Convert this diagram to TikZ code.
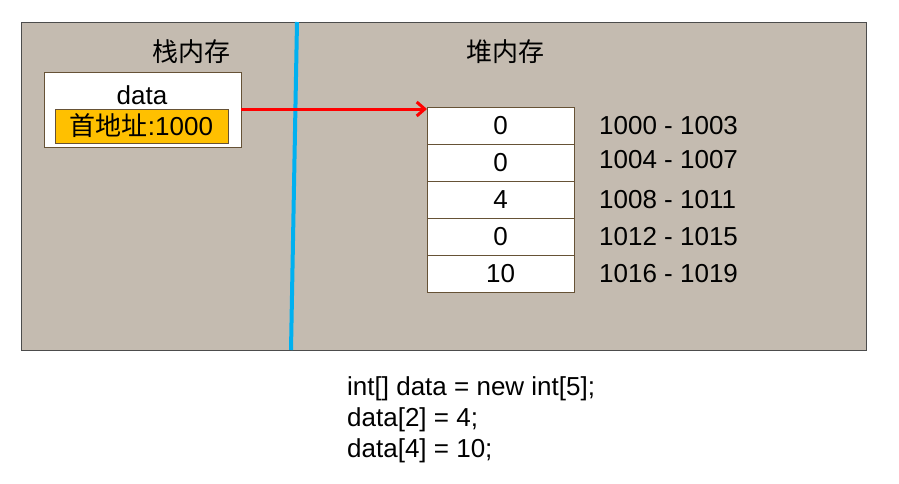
\documentclass[tikz,border=0pt]{standalone}
\usepackage{fontspec}
\setmainfont{Liberation Sans}
\newfontfamily\cjk{Noto Sans CJK SC}
\usepackage{tikz}
\usetikzlibrary{positioning}
\usetikzlibrary{arrows.meta}

\definecolor{bgstone}{RGB}{196,187,176}
\definecolor{edgebrown}{RGB}{102,82,54}
\definecolor{lineblue}{RGB}{0,176,240}
\definecolor{addrorange}{RGB}{255,192,0}

\begin{document}
\begin{tikzpicture}[x=1pt,y=-1pt,
      txt/.style={font=\fontsize{26}{31}\selectfont,inner sep=0pt},
      frameblock/.style={draw=edgebrown,fill=white,rectangle,inner sep=0pt,outer sep=0pt},
      cellblock/.style={frameblock,minimum width=147pt,minimum height=37pt,txt},
      addrlabel/.style={txt,anchor=west},
      node distance=0pt]
      \useasboundingbox (0,0) rectangle (899,483);

      % Background and divider
      \draw[fill=bgstone,draw=gray!60!black] (21,22) rectangle (866,350);
      \coordinate (divtop) at (297,22);
      \coordinate (divbot) at (291,350);
      \draw[lineblue,line width=4pt] (divtop) -- (divbot);

      % Titles
      \node[txt] (stacktitle) at (191,52) {\cjk 栈内存};
      \node[txt] (heaptitle)  at (505,52) {\cjk 堆内存};

      % Stack
      \node[frameblock,minimum width=197pt,minimum height=75pt] (stackbox) at (142.5,109.5) {};
      \node[txt] (varname) at (142,95) {data};
      \node[frameblock,fill=addrorange,minimum width=173pt,minimum height=34pt,txt] (addr) at (141.5,126) {\cjk 首地址\rmfamily:1000};

      % Heap cells
      \node[cellblock] (cell0) at (500.5,125.5) {0};
      \node[cellblock,below=of cell0] (cell1) {0};
      \node[cellblock,below=of cell1] (cell2) {4};
      \node[cellblock,below=of cell2] (cell3) {0};
      \node[cellblock,below=of cell3] (cell4) {10};

      % Addresses
      \node[addrlabel,right=25pt of cell0] (addr0) {1000 - 1003};
      \node[addrlabel,right=25pt of cell1,yshift=2.5pt] (addr1) {1004 - 1007};
      \node[addrlabel,right=25pt of cell2] (addr2) {1008 - 1011};
      \node[addrlabel,right=25pt of cell3] (addr3) {1012 - 1015};
      \node[addrlabel,right=25pt of cell4] (addr4) {1016 - 1019};

      % Arrow
      \draw[red,line width=3pt,-{Straight Barb[length=8pt,width=14pt]}] (addr.north -| stackbox.east) -- (addr.north -| cell0.west);

      % Code
      \node[txt,align=left,anchor=north west] (code) at (347,376) {int[] data = new int[5];\\data[2] = 4;\\data[4] = 10;};

    \end{tikzpicture}
\end{document}
